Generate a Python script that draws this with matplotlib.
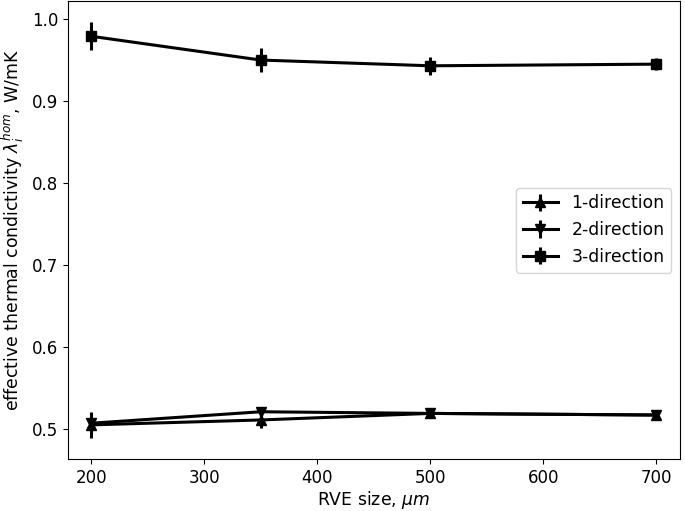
import numpy as np
import matplotlib.pyplot as plt

rve_size = [200, 350, 500, 700]

lam_1 = [0.505, 0.511, 0.519, 0.517]
err_1 = [0.016, 0.010, 0.005, 0.004]
lam_2 = [0.507, 0.521, 0.519, 0.517]
err_2 = [0.008, 0.005, 0.004, 0.003]
lam_3 = [0.979, 0.950, 0.943, 0.945]
err_3 = [0.017, 0.015, 0.011, 0.007]

plt.rcParams["font.size"] = 12.4
plt.rcParams["xtick.labelsize"] = 12
plt.rcParams["ytick.labelsize"] = 12

fig, ax = plt.subplots(figsize=(6.85, 5.11), dpi=100)

for lam, err, mk, lbl in ((lam_1, err_1, "^", "1-direction"),
                          (lam_2, err_2, "v", "2-direction"),
                          (lam_3, err_3, "s", "3-direction")):
    ax.errorbar(rve_size, lam, yerr=err, color="black", marker=mk, markersize=7.5,
                linewidth=2.2, elinewidth=2.2, label=lbl)

ax.set_xlim(179.5, 721)
ax.set_ylim(0.4634, 1.022)
ax.set_xlabel(r"RVE size, $\mu m$", labelpad=2)
ax.set_ylabel(r"effective thermal condictivity $\lambda_i^{hom}$, W/mK")
ax.legend(loc="center right")

fig.subplots_adjust(left=0.0993, right=0.9927, top=0.998, bottom=0.1018)
fig.savefig("out.png")
